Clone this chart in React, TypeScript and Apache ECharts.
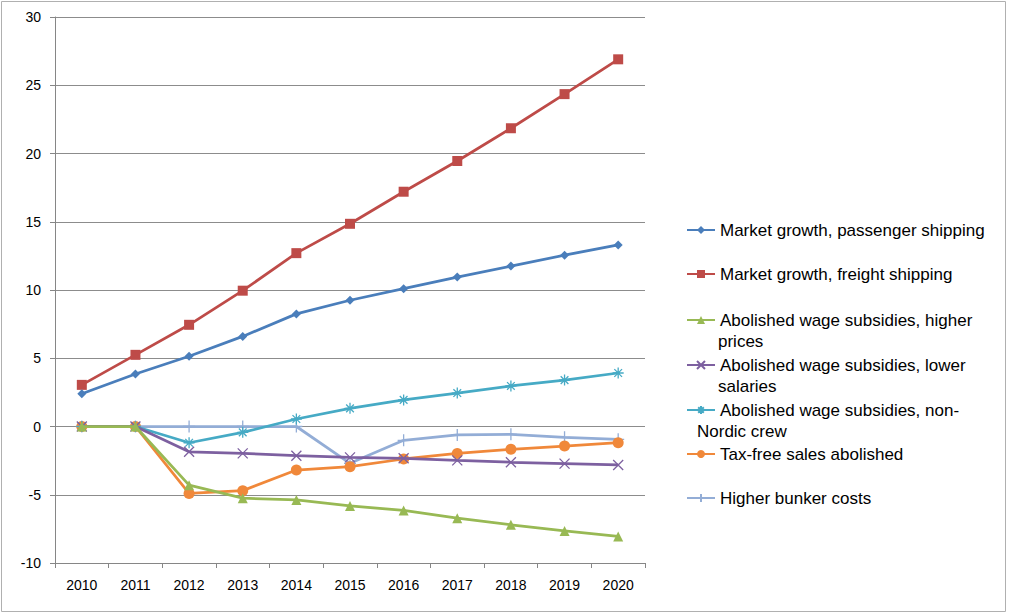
import React, { useEffect, useRef } from "react";
import * as echarts from "echarts";

const years = ["2010", "2011", "2012", "2013", "2014", "2015", "2016", "2017", "2018", "2019", "2020"];
const passenger = [2.4, 3.85, 5.15, 6.6, 8.25, 9.25, 10.1, 10.95, 11.75, 12.55, 13.3];
const freight = [3.05, 5.25, 7.45, 9.95, 12.7, 14.85, 17.2, 19.45, 21.85, 24.35, 26.9];
const higherPrices = [0, 0, -4.3, -5.25, -5.38, -5.82, -6.15, -6.72, -7.2, -7.65, -8.05];
const lowerSalaries = [0, 0, -1.85, -1.97, -2.14, -2.26, -2.33, -2.48, -2.62, -2.72, -2.82];
const nonNordic = [0, 0, -1.19, -0.43, 0.55, 1.33, 1.95, 2.45, 2.97, 3.4, 3.92];
const taxFree = [0, 0, -4.9, -4.7, -3.19, -2.94, -2.38, -1.97, -1.67, -1.43, -1.19];
const bunker = [0, 0, 0, 0, 0, -2.7, -1.01, -0.62, -0.57, -0.79, -0.94];

const seriesNames = [
  "Market growth, passenger shipping",
  "Market growth, freight shipping",
  "Abolished wage subsidies, higher prices",
  "Abolished wage subsidies, lower salaries",
  "Abolished wage subsidies, non-Nordic crew",
  "Tax-free sales abolished",
  "Higher bunker costs",
];
const legendFirstLines = [
  "Market growth, passenger shipping",
  "Market growth, freight shipping",
  "Abolished wage subsidies, higher",
  "Abolished wage subsidies, lower",
  "Abolished wage subsidies, non-",
  "Tax-free sales abolished",
  "Higher bunker costs",
];
const legendSecondLines = ["", "", "prices", "salaries", "Nordic crew", "", ""];

const FONT = "'Liberation Sans', Arial, sans-serif";

export default function App() {
  const ref = useRef<HTMLDivElement>(null);
  useEffect(() => {
    if (!ref.current) return;
    const chart = echarts.init(ref.current, undefined, { renderer: "svg" });
    const colors = ["#4A7EBB", "#BE4B48", "#98B954", "#7D60A0", "#46AAC5", "#F0883A", "#93ADD6"];
    const datas = [passenger, freight, higherPrices, lowerSalaries, nonNordic, taxFree, bunker];
    const symbols = [
      "diamond",
      "rect",
      "triangle",
      "path://M0,0L10,10M10,0L0,10",
      "path://M0,5L10,5M5,0L5,10M1.5,1.5L8.5,8.5M8.5,1.5L1.5,8.5",
      "circle",
      "path://M0,5L10,5M5,0L5,10",
    ];
    const sizes = [9, 10, 10, 10, 11, 11, 12];
    const stroked = [false, false, false, true, true, false, true];
    const legendCenters = [230, 274, 320, 365, 410, 454, 498];

    const series = seriesNames.map((name, i) => ({
      name,
      type: "line",
      data: datas[i],
      symbol: symbols[i],
      symbolSize: sizes[i],
      showSymbol: true,
      lineStyle: { color: colors[i], width: 2.75 },
      itemStyle: stroked[i]
        ? { color: colors[i], borderColor: colors[i], borderWidth: 1.3 }
        : { color: colors[i] },
      z: 10 - i,
    }));

    const legends = seriesNames.map((name, i) => ({
      data: [name],
      left: 686,
      top: legendCenters[i] - 10,
      orient: "horizontal",
      padding: 0,
      itemWidth: 28,
      itemHeight: 10,
      itemGap: 2,
      selectedMode: false,
      formatter: () => legendFirstLines[i],
      textStyle: { fontFamily: FONT, fontSize: 17, color: "#000", lineHeight: 20, padding: [0, 0, 0, 0] },
    }));

    const extraTexts = legendSecondLines
      .map((t, i) => ({ t, i }))
      .filter((o) => o.t)
      .map((o) => ({
        type: "text",
        left: o.i === 4 ? 697 : 718,
        top: legendCenters[o.i] + 23 - 10,
        style: { text: o.t, fontFamily: FONT, fontSize: 17, fill: "#000" },
      }));

    chart.setOption({
      animation: false,
      backgroundColor: "#fff",
      grid: { left: 55, right: 364, top: 17, bottom: 51, containLabel: false },
      xAxis: {
        type: "category",
        data: years,
        boundaryGap: true,
        axisLine: { onZero: false, lineStyle: { color: "#868686", width: 1 } },
        axisTick: { show: true, length: 5, alignWithLabel: false, lineStyle: { color: "#868686" } },
        axisLabel: { color: "#000", fontFamily: FONT, fontSize: 14, margin: 15 },
        splitLine: { show: false },
      },
      yAxis: {
        type: "value",
        min: -10,
        max: 30,
        interval: 5,
        axisLine: { show: true, lineStyle: { color: "#868686", width: 1 } },
        axisTick: { show: true, length: 5, lineStyle: { color: "#868686" } },
        axisLabel: { color: "#000", fontFamily: FONT, fontSize: 14, margin: 14 },
        splitLine: { show: true, lineStyle: { color: "#8c8c8c", width: 1 } },
      },
      legend: legends,
      series,
      graphic: [
        {
          type: "rect",
          shape: { x: 1.5, y: 1.5, width: 1004, height: 610 },
          style: { fill: "none", stroke: "#b0b0b0", lineWidth: 1 },
          silent: true,
        },
        ...extraTexts,
      ],
    });
    return () => chart.dispose();
  }, []);
  return (
    <div
      ref={ref}
      style={{ position: "fixed", left: 0, top: 0, width: 1009, height: 614, background: "#fff" }}
    />
  );
}
